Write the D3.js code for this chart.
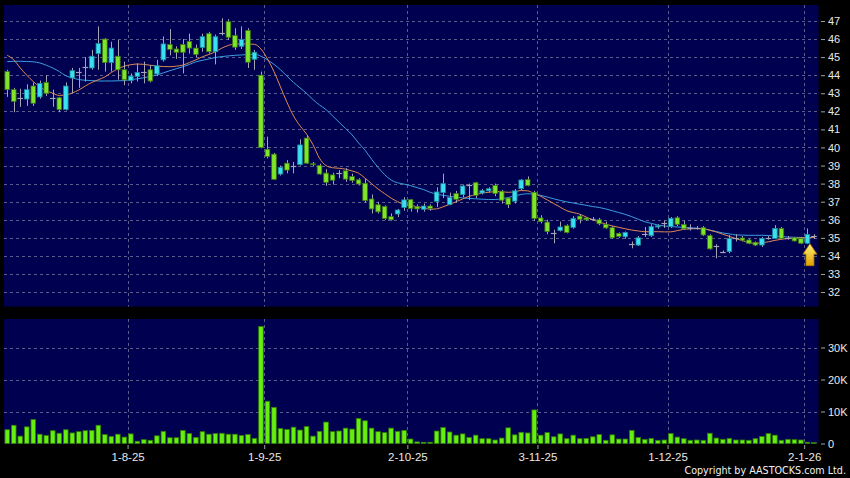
<!DOCTYPE html>
<html>
<head>
<meta charset="utf-8">
<script src="https://cdnjs.cloudflare.com/ajax/libs/d3/7.8.5/d3.min.js"></script>
<style>
  body { margin: 0; background: #000; }
  svg { display: block; font-family: "DejaVu Sans", sans-serif; }
  .axis text { fill: #e8e8e8; }
  .axis line { stroke: #a0a0b0; }
  .axis path { display: none; }
</style>
</head>
<body>
<div id="chart"></div>
<script>
// Daily candles, 8-7-25 .. 6-1-26 (index based)
var openPrices = [44.2, 43.2, 42.75, 42.68, 43.4, 42.8, 43.6, 42.75, 42.75, 42.1,
  43.85, 44.2, 44.45, 44.4, 45.2, 46.0, 44.7, 45.05, 44.3, 43.7,
  43.93, 44.2, 44.3, 44.07, 44.85, 45.7, 45.45, 45.7, 45.86, 45.5,
  45.54, 46.3, 45.3, 46.35, 46.96, 46.2, 45.6, 46.47, 44.88, 44.0,
  39.9, 39.63, 38.53, 39.13, 38.95, 39.05, 40.52, 39.1, 39.0, 38.58,
  38.48, 38.6, 38.71, 38.39, 38.21, 38.02, 37.15, 36.83, 36.73, 36.17,
  36.32, 36.68, 37.11, 36.72, 36.58, 36.76, 37.02, 37.5, 36.84, 37.45,
  37.39, 37.9, 38.05, 37.48, 37.6, 37.9, 37.58, 37.2, 37.03, 37.72,
  38.22, 37.52, 36.1, 35.87, 35.25, 35.4, 35.67, 35.58, 36.2, 36.1,
  36.05, 36.0, 35.75, 35.56, 35.25, 35.06, 34.65, 34.6, 35.2, 35.12,
  35.6, 35.8, 35.62, 36.11, 35.74, 35.56, 35.56, 35.56, 35.12, 34.57,
  34.2, 34.24, 34.97, 34.99, 34.88, 34.75, 34.6, 35.0, 34.97, 35.52,
  35.0, 35.0, 34.97, 34.7, 35.12];
var highPrices = [44.3, 43.3, 43.25, 43.5, 43.6, 43.7, 44.0, 43.2, 42.8, 43.6,
  44.4, 44.4, 45.0, 45.4, 46.7, 46.05, 45.85, 45.95, 44.75, 44.1,
  44.65, 44.75, 44.55, 44.85, 46.15, 46.55, 45.6, 46.0, 46.3, 45.7,
  46.3, 46.4, 46.25, 47.15, 47.1, 46.6, 46.7, 46.6, 45.4, 44.2,
  40.6, 39.7, 39.0, 39.3, 39.2, 40.45, 40.65, 39.2, 39.1, 38.8,
  38.6, 38.75, 38.85, 38.55, 38.3, 38.25, 37.4, 37.0, 36.8, 36.35,
  36.6, 37.25, 37.15, 36.85, 36.9, 36.85, 37.8, 38.55, 37.5, 37.6,
  37.95, 38.0, 38.1, 37.7, 37.8, 38.0, 37.65, 37.25, 37.7, 38.25,
  38.4, 37.6, 36.25, 36.0, 35.45, 35.9, 35.75, 36.2, 36.3, 36.15,
  36.15, 36.1, 35.9, 35.65, 35.3, 35.35, 34.8, 35.1, 35.6, 35.75,
  35.75, 35.95, 36.15, 36.2, 35.95, 35.75, 35.65, 35.65, 35.2, 34.65,
  34.3, 35.15, 35.2, 35.1, 34.95, 34.8, 35.05, 35.1, 35.7, 35.6,
  35.1, 35.05, 35.05, 35.52, 35.2];
var lowPrices = [42.8, 41.95, 42.25, 42.3, 42.3, 42.7, 42.85, 42.25, 41.95, 42.05,
  43.0, 43.3, 43.65, 44.3, 44.3, 44.2, 44.2, 43.75, 43.45, 43.55,
  43.65, 43.55, 43.6, 43.95, 44.75, 45.1, 44.9, 44.1, 45.2, 45.0,
  45.3, 45.2, 44.6, 46.2, 45.95, 45.4, 45.45, 44.4, 44.3, 39.95,
  39.4, 38.2, 38.45, 38.57, 38.57, 39.0, 39.1, 38.95, 38.5, 37.88,
  37.95, 38.3, 38.1, 38.05, 37.9, 36.95, 36.35, 36.35, 36.0, 35.95,
  36.15, 36.5, 36.45, 36.4, 36.45, 36.5, 36.7, 37.2, 36.8, 36.95,
  37.25, 37.1, 37.2, 37.4, 37.5, 37.3, 36.9, 36.65, 36.9, 37.65,
  37.85, 35.95, 35.8, 35.2, 34.7, 35.35, 35.25, 35.5, 35.8, 35.95,
  35.95, 35.7, 35.5, 34.95, 35.0, 34.95, 34.42, 34.55, 35.05, 35.05,
  35.5, 35.55, 35.55, 35.65, 35.45, 35.4, 35.45, 35.1, 34.35, 33.87,
  34.15, 34.15, 34.8, 34.8, 34.65, 34.55, 34.5, 34.9, 34.95, 34.9,
  34.9, 34.8, 34.65, 34.65, 34.95];
var closePrices = [43.2, 42.55, 42.75, 43.2, 42.45, 43.55, 43.0, 42.75, 42.1, 43.4,
  44.25, 44.2, 44.45, 45.05, 45.75, 44.7, 45.5, 44.3, 43.75, 43.95,
  44.15, 44.2, 43.68, 44.52, 45.73, 45.43, 45.27, 45.27, 45.5, 45.15,
  46.13, 45.3, 46.13, 46.35, 46.1, 45.55, 45.97, 44.72, 45.27, 40.0,
  39.5, 38.24, 38.9, 38.75, 38.95, 40.14, 39.13, 39.05, 38.53, 38.07,
  38.19, 38.6, 38.25, 38.17, 37.98, 37.06, 36.6, 36.44, 36.07, 36.0,
  36.54, 37.1, 36.62, 36.6, 36.76, 36.62, 37.54, 38.0, 37.23, 37.13,
  37.87, 37.9, 37.35, 37.61, 37.72, 37.45, 37.08, 36.84, 37.6, 38.2,
  37.9, 36.07, 35.9, 35.35, 35.25, 35.6, 35.3, 36.07, 36.03, 36.0,
  36.05, 35.78, 35.55, 35.0, 35.08, 35.3, 34.65, 35.0, 35.2, 35.62,
  35.67, 35.8, 36.08, 35.75, 35.5, 35.56, 35.56, 35.16, 34.39, 34.57,
  34.2, 34.97, 34.97, 34.87, 34.7, 34.6, 34.97, 35.0, 35.52, 34.97,
  35.0, 34.83, 34.7, 35.19, 35.12];
var volumes = [4300, 5700, 2300, 5200, 7500, 2900, 2500, 4000, 3200, 4300,
  3300, 3700, 4000, 4100, 5700, 2800, 2200, 2900, 2000, 3000,
  700, 1200, 1000, 2400, 3800, 1800, 1800, 4100, 3100, 1900,
  3700, 2900, 3100, 3200, 2900, 2900, 2500, 2800, 1600, 36600,
  13200, 11300, 4700, 4400, 5100, 4200, 5300, 2300, 3800, 6700,
  3700, 3900, 4800, 4500, 7800, 7100, 4800, 3700, 3400, 4800,
  3800, 4100, 1400, 500, 400, 400, 3900, 5000, 3600, 2600,
  3000, 1900, 2600, 1500, 1500, 1100, 1700, 4900, 2700, 3500,
  3300, 10500, 2600, 3400, 2100, 3000, 1500, 2600, 1500, 1600,
  2100, 2800, 1000, 2700, 1400, 1400, 4100, 1900, 1300, 1600,
  1000, 1100, 3100, 2000, 1500, 1000, 1100, 1000, 3200, 1700,
  1300, 1600, 1100, 1100, 1000, 1500, 2200, 3100, 2600, 1000,
  1300, 1200, 1100, 400, 300];
// moving averages as drawn (orange = short, blue = long)
var maShort = [45.1, 44.85, 44.4, 44.0, 43.65, 43.35, 43.15, 43.0, 42.88, 42.9,
  43.02, 43.18, 43.4, 43.6, 43.75, 43.9, 44.15, 44.35, 44.5, 44.58,
  44.62, 44.6, 44.55, 44.5, 44.48, 44.47, 44.5, 44.56, 44.7, 44.85,
  45.02, 45.15, 45.3, 45.5, 45.65, 45.72, 45.73, 45.73, 45.71, 45.45,
  44.9, 44.2, 43.35, 42.5, 41.75, 41.2, 40.75, 40.15, 39.4, 39.0,
  38.88, 38.85, 38.8, 38.7, 38.58, 38.3, 38.0, 37.7, 37.45, 37.2,
  37.0, 36.85, 36.8, 36.72, 36.66, 36.58, 36.6, 36.72, 36.85, 37.0,
  37.15, 37.3, 37.38, 37.48, 37.52, 37.56, 37.55, 37.52, 37.55, 37.62,
  37.6, 37.45, 37.3, 37.1, 36.9, 36.7, 36.5, 36.4, 36.31, 36.15,
  36.0, 35.88, 35.76, 35.66, 35.58, 35.5, 35.43, 35.38, 35.34, 35.34,
  35.34, 35.33, 35.33, 35.4, 35.47, 35.5, 35.51, 35.5, 35.42, 35.32,
  35.2, 35.08, 34.95, 34.85, 34.73, 34.7, 34.72, 34.78, 34.86, 34.92,
  34.96, 34.98, 35.0, 35.01, 35.02];
var maLong = [44.75, 44.77, 44.77, 44.76, 44.74, 44.68, 44.55, 44.4, 44.2, 43.97,
  43.85, 43.76, 43.72, 43.7, 43.68, 43.68, 43.68, 43.69, 43.7, 43.76,
  43.8, 43.86, 43.93, 44.01, 44.13, 44.25, 44.36, 44.47, 44.6, 44.74,
  44.82, 44.9, 44.98, 45.03, 45.07, 45.1, 45.12, 45.14, 45.16, 45.05,
  44.85, 44.6, 44.3, 43.95, 43.6, 43.3, 43.0, 42.65, 42.35, 42.1,
  41.75, 41.4, 41.05, 40.7, 40.25, 39.85, 39.35, 38.9, 38.5, 38.2,
  38.05, 37.97, 37.89, 37.78, 37.67, 37.52, 37.42, 37.35, 37.3, 37.25,
  37.21, 37.18, 37.16, 37.14, 37.12, 37.12, 37.16, 37.23, 37.32, 37.4,
  37.44, 37.41, 37.35, 37.26, 37.16, 37.07, 36.99, 36.93, 36.86, 36.8,
  36.73, 36.68, 36.6, 36.5, 36.4, 36.3, 36.17, 36.03, 35.89, 35.8,
  35.71, 35.66, 35.62, 35.6, 35.58, 35.56, 35.53, 35.5, 35.43, 35.35,
  35.27, 35.22, 35.16, 35.15, 35.14, 35.14, 35.14, 35.13, 35.1, 35.08,
  35.04, 35.03, 35.02, 35.01, 35.01];

// date ticks: candle index and label
var dateTickIndex = [18, 39, 61, 81, 101, 122];
var dateTickLabels = ["1-8-25", "1-9-25", "2-10-25", "3-11-25", "1-12-25", "2-1-26"];
var priceTicks = d3.range(32, 48);
var volumeTicks = [0, 10000, 20000, 30000];
var volumeTickLabels = ["0", "10K", "20K", "30K"];

var svgWidth = 850;
var svgHeight = 478;
var plotLeft = 4, plotRight = 818.5;
var priceTop = 5, priceBottom = 306.5;
var volTop = 319, volBottom = 444;

var svg = d3.select("#chart")
  .append("svg")
  .attr("width", svgWidth)
  .attr("height", svgHeight);

svg.append("rect").attr("width", svgWidth).attr("height", svgHeight).attr("fill", "#000");

var n = closePrices.length;
var xScale = d3.scaleLinear().domain([-0.5, n - 0.3]).range([plotLeft, plotRight]);
var yPrice = d3.scaleLinear().domain([31.2, 47.885]).range([priceBottom, priceTop]);
var yVol = d3.scaleLinear().domain([0, 39000]).range([443.5, 318.7]);

// panels
svg.append("rect")
  .attr("x", plotLeft).attr("y", priceTop)
  .attr("width", plotRight - plotLeft).attr("height", priceBottom - priceTop)
  .attr("fill", "#000050");
svg.append("rect")
  .attr("x", plotLeft).attr("y", volTop)
  .attr("width", plotRight - plotLeft).attr("height", volBottom - volTop)
  .attr("fill", "#000050");

var grid = svg.append("g")
  .attr("stroke", "#5c5c8c")
  .attr("stroke-width", 1)
  .attr("stroke-dasharray", "3,3");

grid.selectAll(".hp")
  .data(priceTicks)
  .enter().append("line")
  .attr("x1", plotLeft).attr("x2", plotRight)
  .attr("y1", d => Math.round(yPrice(d)) + 0.5)
  .attr("y2", d => Math.round(yPrice(d)) + 0.5);

grid.selectAll(".hv")
  .data(volumeTicks.slice(1))
  .enter().append("line")
  .attr("x1", plotLeft).attr("x2", plotRight)
  .attr("y1", d => Math.round(yVol(d)) + 0.5)
  .attr("y2", d => Math.round(yVol(d)) + 0.5);

dateTickIndex.forEach(function (i) {
  var gx = Math.round(xScale(i + 0.5)) + 0.5;
  grid.append("line").attr("x1", gx).attr("x2", gx).attr("y1", priceTop).attr("y2", priceBottom);
  grid.append("line").attr("x1", gx).attr("x2", gx).attr("y1", volTop).attr("y2", volBottom);
});

// volume bars
svg.append("g").selectAll("rect")
  .data(volumes)
  .enter().append("rect")
  .attr("x", (d, i) => xScale(i) - 2.3)
  .attr("width", 4.6)
  .attr("y", d => yVol(d))
  .attr("height", d => yVol(0) - yVol(d))
  .attr("fill", "#66ee11")
  .attr("stroke", "#2f7a05")
  .attr("stroke-width", 0.8);

// moving averages
var maLine = function (values) {
  return d3.line()
    .x((d, i) => xScale(i))
    .y(d => yPrice(d))
    .curve(d3.curveMonotoneX)(values);
};

svg.append("path")
  .attr("d", maLine(maLong))
  .attr("fill", "none")
  .attr("stroke", "#3a9ee0")
  .attr("stroke-width", 1);

svg.append("path")
  .attr("d", maLine(maShort))
  .attr("fill", "none")
  .attr("stroke", "#e08a52")
  .attr("stroke-width", 1);

// candles
var candles = d3.range(n).map(function (i) {
  return { i: i, o: openPrices[i], h: highPrices[i], l: lowPrices[i], c: closePrices[i] };
});

var candleGroup = svg.append("g");

candleGroup.selectAll(".wick")
  .data(candles)
  .enter().append("line")
  .attr("x1", d => Math.round(xScale(d.i)) + 0.5)
  .attr("x2", d => Math.round(xScale(d.i)) + 0.5)
  .attr("y1", d => yPrice(d.h))
  .attr("y2", d => yPrice(d.l))
  .attr("stroke", "#a4a4b4")
  .attr("stroke-width", 1);

candleGroup.selectAll(".body")
  .data(candles.filter(d => Math.abs(d.c - d.o) >= 0.03))
  .enter().append("rect")
  .attr("x", d => xScale(d.i) - 2.3)
  .attr("width", 4.6)
  .attr("y", d => yPrice(Math.max(d.o, d.c)))
  .attr("height", d => Math.max(1, yPrice(Math.min(d.o, d.c)) - yPrice(Math.max(d.o, d.c))))
  .attr("fill", d => d.c > d.o ? "#3ae0f0" : "#7fe52a")
  .attr("stroke", d => d.c > d.o ? "#1b8a9c" : "#3d7a10")
  .attr("stroke-width", 0.8);

candleGroup.selectAll(".doji")
  .data(candles.filter(d => Math.abs(d.c - d.o) < 0.03))
  .enter().append("line")
  .attr("x1", d => xScale(d.i) - 2.8)
  .attr("x2", d => xScale(d.i) + 2.8)
  .attr("y1", d => Math.round(yPrice(d.c)) + 0.5)
  .attr("y2", d => Math.round(yPrice(d.c)) + 0.5)
  .attr("stroke", "#a4a4b4")
  .attr("stroke-width", 1.2);

// axes
var priceAxis = d3.axisRight(yPrice)
  .tickValues(priceTicks)
  .tickSize(4)
  .tickPadding(3)
  .tickFormat(d3.format("d"));
svg.append("g")
  .attr("class", "axis")
  .attr("transform", `translate(${plotRight + 2.5}, 0)`)
  .style("font-size", "11px")
  .call(priceAxis);

var volAxis = d3.axisRight(yVol)
  .tickValues(volumeTicks)
  .tickSize(4)
  .tickPadding(3)
  .tickFormat((d, i) => volumeTickLabels[i]);
svg.append("g")
  .attr("class", "axis")
  .attr("transform", `translate(${plotRight + 2.5}, 0)`)
  .style("font-size", "11px")
  .call(volAxis);

var dateAxis = d3.axisBottom(xScale)
  .tickValues(dateTickIndex.map(i => i + 0.5))
  .tickSize(4)
  .tickPadding(4)
  .tickFormat((d, k) => dateTickLabels[k]);
svg.append("g")
  .attr("class", "axis")
  .attr("transform", `translate(0, ${volBottom + 1})`)
  .style("font-size", "11.5px")
  .call(dateAxis);

// latest-price arrow
var defs = svg.append("defs");
var grad = defs.append("linearGradient")
  .attr("id", "arrowGrad")
  .attr("x1", 0).attr("y1", 0).attr("x2", 0).attr("y2", 1);
grad.append("stop").attr("offset", "0%").attr("stop-color", "#fff27a");
grad.append("stop").attr("offset", "100%").attr("stop-color", "#e0a000");

var ax = xScale(n - 2) + 2.5;
var ay = yPrice(lowPrices[n - 2]) - 0.5;
svg.append("path")
  .attr("d", `M${ax},${ay} L${ax + 7},${ay + 10.5} L${ax + 4},${ay + 10.5} L${ax + 4},${ay + 22}
    L${ax - 4},${ay + 22} L${ax - 4},${ay + 10.5} L${ax - 7},${ay + 10.5} Z`)
  .attr("fill", "url(#arrowGrad)")
  .attr("stroke", "#b07800")
  .attr("stroke-width", 0.8);

svg.append("text")
  .attr("x", 846)
  .attr("y", 474)
  .attr("text-anchor", "end")
  .attr("fill", "#f0f0f0")
  .style("font-size", "9.6px")
  .text("Copyright by AASTOCKS.com Ltd.");
</script>
</body>
</html>
